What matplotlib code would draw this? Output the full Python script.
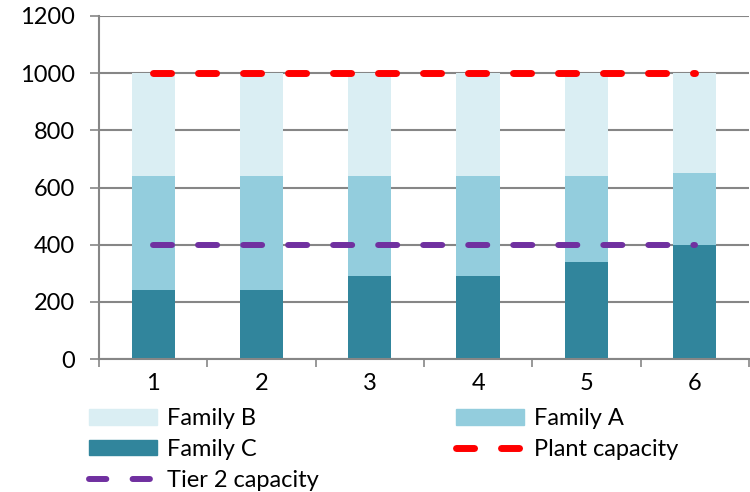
import matplotlib
matplotlib.use("Agg")
import matplotlib.pyplot as plt
from matplotlib.patches import Patch
from matplotlib.lines import Line2D
import numpy as np

categories = ["1", "2", "3", "4", "5", "6"]
family_c = [240, 240, 290, 290, 340, 400]
family_a = [400, 400, 350, 350, 300, 250]
family_b = [360, 360, 360, 360, 360, 350]
plant_capacity = [1000, 1000, 1000, 1000, 1000, 1000]
tier2_capacity = [400, 400, 400, 400, 400, 400]

c_b = "#DAEEF3"
c_a = "#93CDDD"
c_c = "#31859C"
c_red = "#FF0000"
c_purple = "#7030A0"
grid_c = "#868686"

plt.rcParams['font.family'] = ['Lato', 'DejaVu Sans']
FS = 17

fig = plt.figure(figsize=(7.5, 4.92), dpi=100)
ax = fig.add_axes([99 / 750, 1 - 359 / 492, 650 / 750, 343 / 492])

x = np.arange(1, len(categories) + 1)
w = 0.40
ax.bar(x, family_c, width=w, color=c_c, zorder=2)
bottom_a = np.array(family_c)
ax.bar(x, family_a, width=w, bottom=bottom_a, color=c_a, zorder=2)
bottom_b = bottom_a + np.array(family_a)
ax.bar(x, family_b, width=w, bottom=bottom_b, color=c_b, zorder=2)

red_lw, red_dash = 5.0, (2.6, 3.88)
pur_lw, pur_dash = 4.3, (3.19, 4.35)
ax.plot(x, plant_capacity, color=c_red, lw=red_lw, dashes=red_dash,
        dash_capstyle='round', zorder=3)
ax.plot(x, tier2_capacity, color=c_purple, lw=pur_lw, dashes=pur_dash,
        dash_capstyle='round', zorder=3)

ax.set_xlim(0.5, 6.5)
ax.set_ylim(0, 1200)
ax.set_yticks(range(0, 1201, 200))
ax.yaxis.grid(True, color=grid_c, lw=1.5, zorder=1)
ax.set_axisbelow(True)

ax.set_xticks(x)
ax.set_xticklabels(categories)
ax.set_xticks(np.arange(0.5, 6.6, 1), minor=True)
ax.tick_params(axis='x', which='major', length=0, pad=10, labelsize=FS)
ax.tick_params(axis='x', which='minor', length=6, width=1.2, color=grid_c)
ax.tick_params(axis='y', length=6.5, width=1.2, color=grid_c, labelsize=FS, pad=11)

for s in ['top', 'right']:
    ax.spines[s].set_visible(False)
for s in ['left', 'bottom']:
    ax.spines[s].set_color(grid_c)
    ax.spines[s].set_linewidth(1.5)

h_b = Patch(color=c_b, label="Family B")
h_c = Patch(color=c_c, label="Family C")
h_t = Line2D([], [], color=c_purple, lw=pur_lw, dashes=(2.9, 4.4), dash_capstyle='round', label="Tier 2 capacity")
h_a = Patch(color=c_a, label="Family A")
h_p = Line2D([], [], color=c_red, lw=red_lw, dashes=(2.6, 3.88), dash_capstyle='round', label="Plant capacity")

common = dict(loc='upper left', frameon=False, fontsize=FS, handlelength=2.88,
              handleheight=0.64, labelspacing=0.42, handletextpad=0.42,
              borderaxespad=0, borderpad=0)
fig.legend(handles=[h_b, h_c, h_t], bbox_to_anchor=(89 / 750, 1 - 408 / 492), **common)
fig.legend(handles=[h_a, h_p], bbox_to_anchor=(456 / 750, 1 - 408 / 492), **common)

fig.savefig("out.png", dpi=100)
